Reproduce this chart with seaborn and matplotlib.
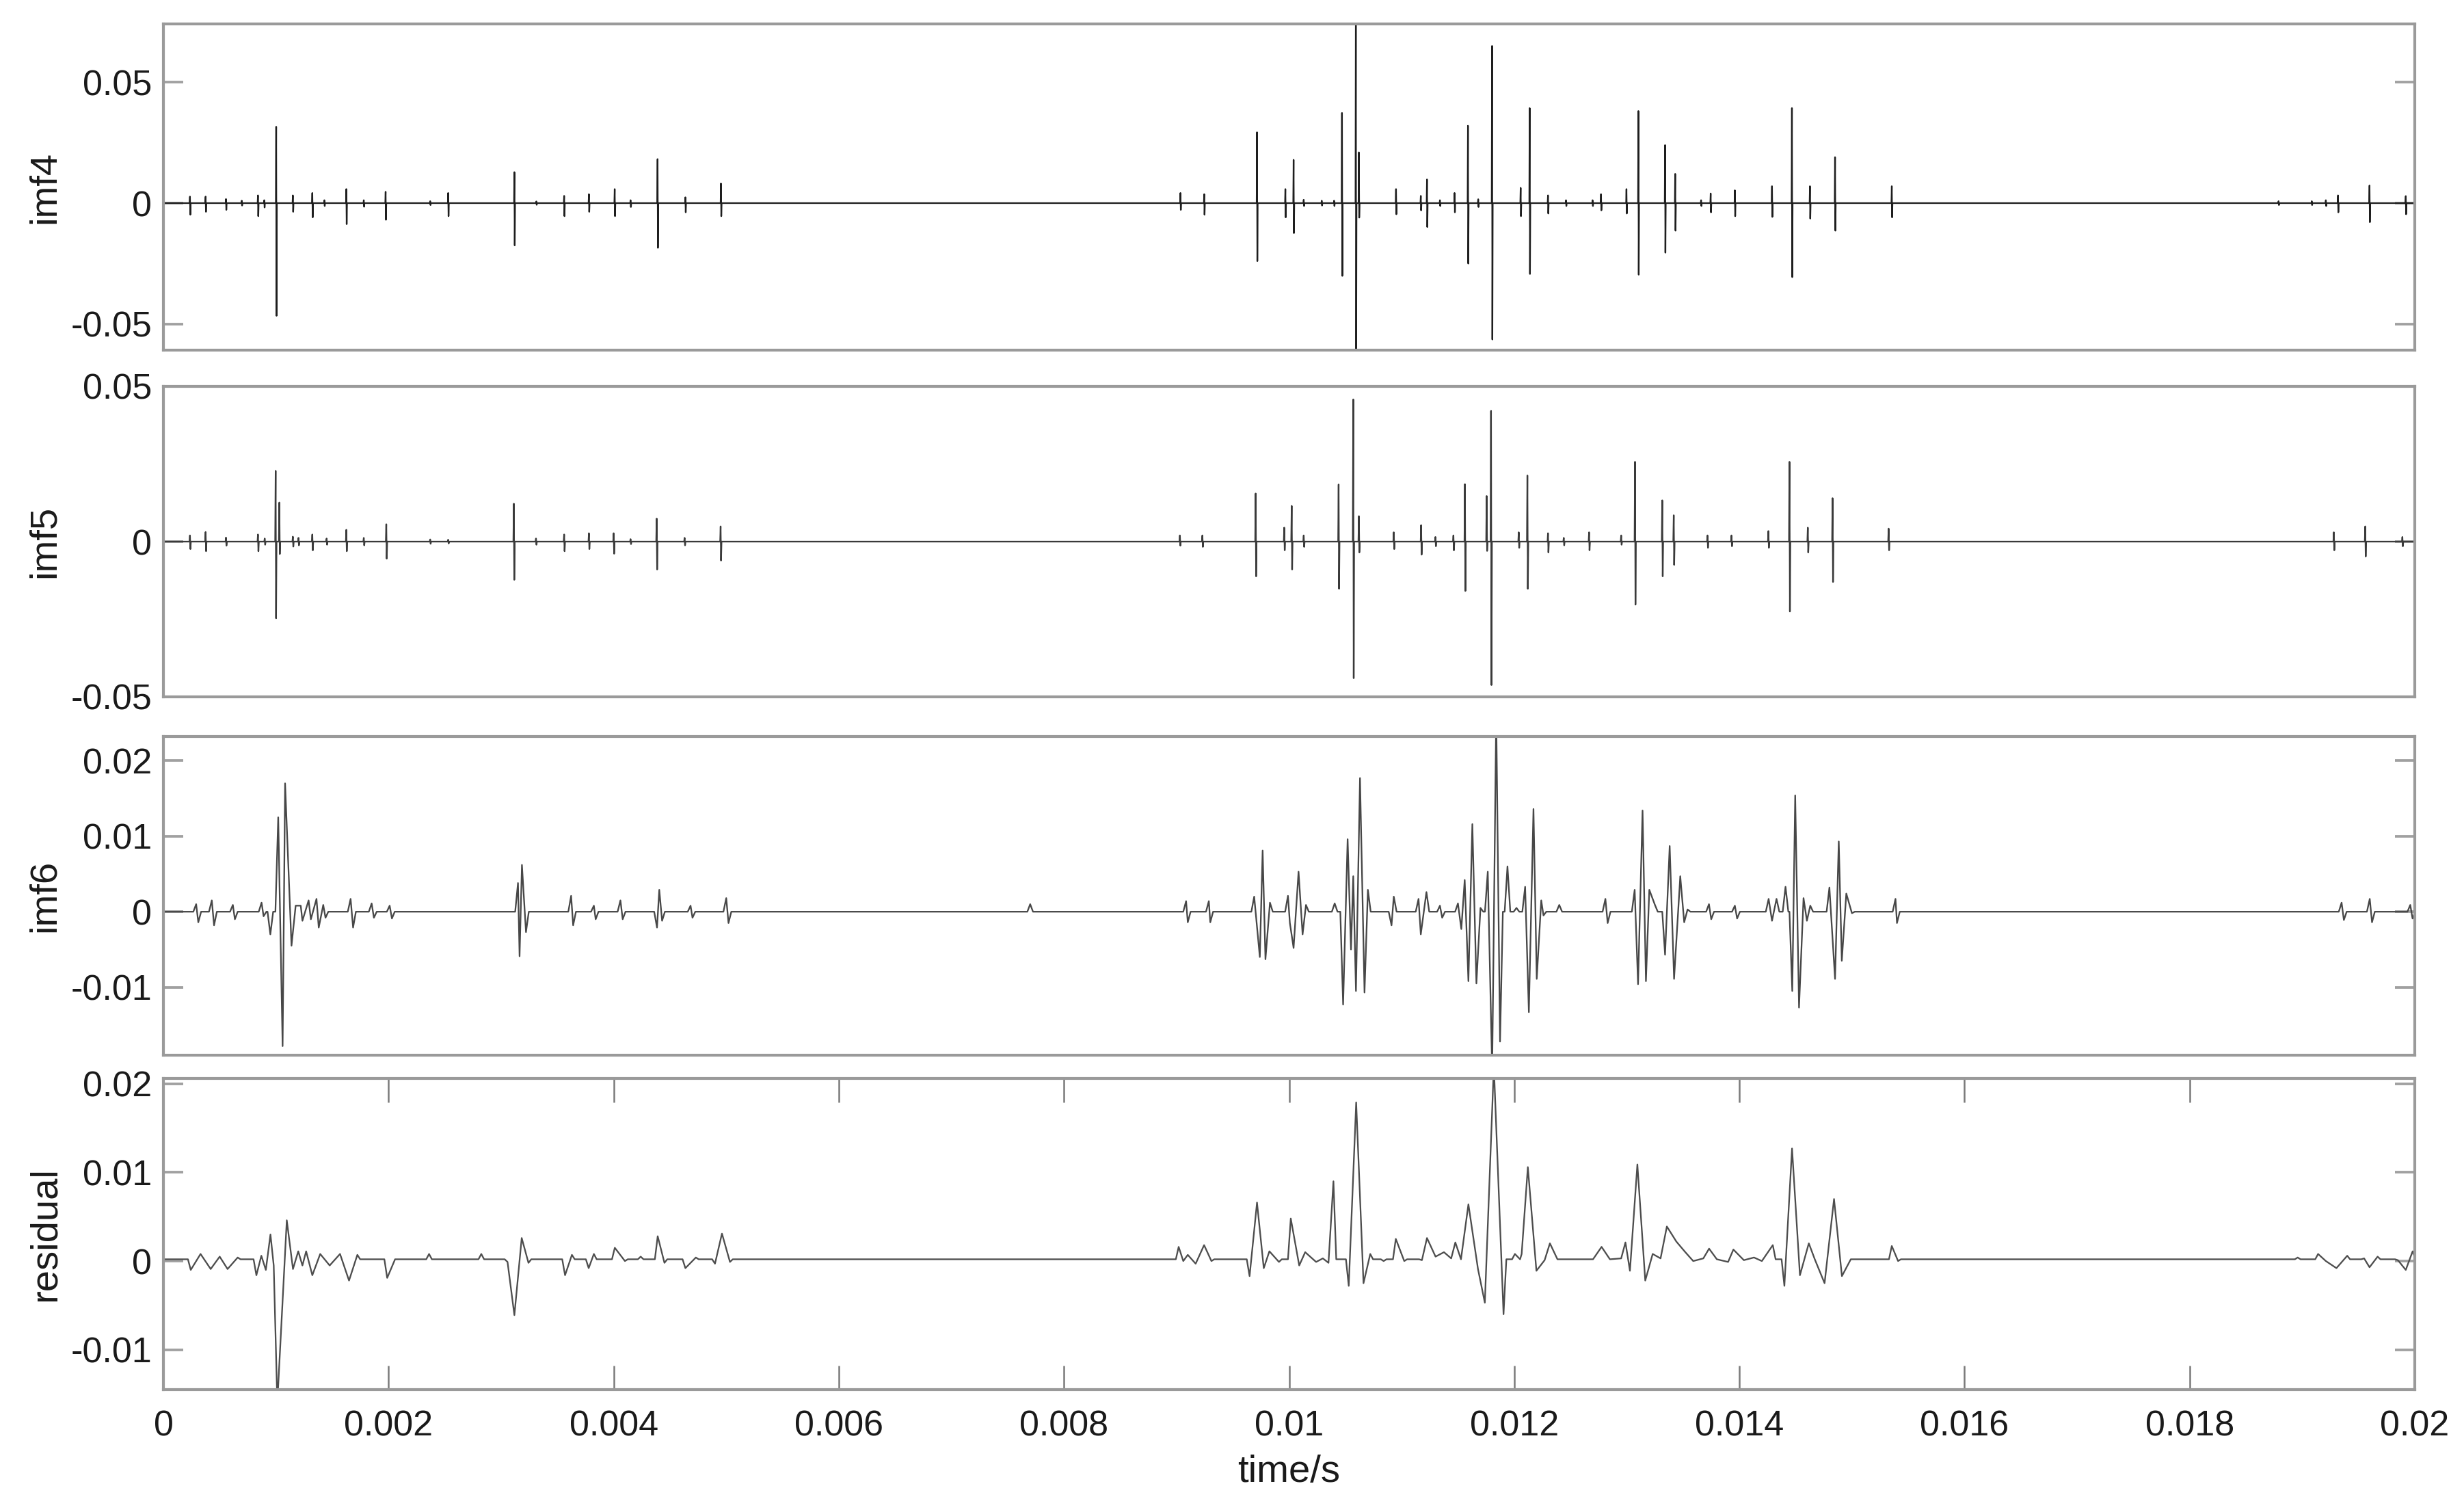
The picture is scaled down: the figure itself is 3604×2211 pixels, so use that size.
import matplotlib
matplotlib.use("Agg")
import matplotlib.pyplot as plt
import seaborn as sns
import pandas as pd

# ---- data (time in s) ----
# imf4 / imf5: isolated spikes -> time, positive peak, negative peak
imf4_t = [0.000236, 0.000375, 0.000556, 0.000696, 0.000840, 0.000896, 0.001002, 0.001150,
          0.001323, 0.001430, 0.001625, 0.001780, 0.001974, 0.002370, 0.002530, 0.003118,
          0.003313, 0.003560, 0.003780, 0.004009, 0.004150, 0.004390, 0.004637, 0.004953,
          0.009035, 0.009246, 0.009715, 0.009967, 0.010040, 0.010130, 0.010290, 0.010400,
          0.010470, 0.010593, 0.010620, 0.010950, 0.011170, 0.011225, 0.011340, 0.011470,
          0.011589, 0.011680, 0.011803, 0.012057, 0.012137, 0.012300, 0.012460, 0.012696,
          0.012771, 0.012997, 0.013103, 0.013340, 0.013430, 0.013660, 0.013745, 0.013960,
          0.014290, 0.014467, 0.014627, 0.014850, 0.015354, 0.018790, 0.019085, 0.019210,
          0.019318, 0.019598, 0.019920]
imf4_up = [0.0027, 0.0027, 0.0017, 0.0010, 0.0032, 0.0012, 0.0316, 0.0032,
           0.0042, 0.0012, 0.0058, 0.0012, 0.0047, 0.0008, 0.0042, 0.0128,
           0.0007, 0.0030, 0.0037, 0.0058, 0.0012, 0.0182, 0.0024, 0.0081,
           0.0042, 0.0037, 0.0293, 0.0058, 0.0179, 0.0014, 0.0010, 0.0010,
           0.0373, 0.0850, 0.0210, 0.0058, 0.0030, 0.0098, 0.0012, 0.0042,
           0.0320, 0.0016, 0.0650, 0.0063, 0.0393, 0.0032, 0.0012, 0.0012,
           0.0037, 0.0058, 0.0381, 0.0240, 0.0121, 0.0012, 0.0040, 0.0053,
           0.0070, 0.0393, 0.0070, 0.0190, 0.0070, 0.0008, 0.0008, 0.0012,
           0.0032, 0.0073, 0.0029]
imf4_dn = [-0.0048, -0.0036, -0.0028, -0.0010, -0.0054, -0.0018, -0.0466, -0.0036,
           -0.0059, -0.0012, -0.0087, -0.0015, -0.0069, -0.0008, -0.0054, -0.0175,
           -0.0007, -0.0054, -0.0036, -0.0054, -0.0016, -0.0185, -0.0038, -0.0054,
           -0.0028, -0.0048, -0.0240, -0.0059, -0.0124, -0.0012, -0.0010, -0.0012,
           -0.0301, -0.0750, -0.0060, -0.0046, -0.0030, -0.0099, -0.0012, -0.0038,
           -0.0250, -0.0016, -0.0564, -0.0054, -0.0293, -0.0043, -0.0012, -0.0012,
           -0.0030, -0.0043, -0.0296, -0.0205, -0.0114, -0.0012, -0.0038, -0.0054,
           -0.0057, -0.0306, -0.0064, -0.0114, -0.0059, -0.0008, -0.0008, -0.0012,
           -0.0038, -0.0079, -0.0046]

imf5_t = [0.000236, 0.000375, 0.000556, 0.000840, 0.000900, 0.000997, 0.001030, 0.001150,
          0.001200, 0.001323, 0.001450, 0.001625, 0.001780, 0.001980, 0.002370, 0.002530,
          0.003113, 0.003310, 0.003560, 0.003780, 0.004000, 0.004150, 0.004382, 0.004630,
          0.004950, 0.009030, 0.009230, 0.009703, 0.009957, 0.010023, 0.010130, 0.010440,
          0.010570, 0.010620, 0.010930, 0.011173, 0.011300, 0.011460, 0.011562, 0.011755,
          0.011794, 0.012040, 0.012117, 0.012300, 0.012440, 0.012665, 0.012950, 0.013073,
          0.013315, 0.013417, 0.013717, 0.013930, 0.014258, 0.014445, 0.014608, 0.014828,
          0.015326, 0.019281, 0.019560, 0.019890]
imf5_up = [0.0020, 0.0031, 0.0013, 0.0023, 0.0010, 0.0228, 0.0126, 0.0016,
           0.0012, 0.0023, 0.0010, 0.0038, 0.0012, 0.0056, 0.0007, 0.0006,
           0.0122, 0.0010, 0.0023, 0.0027, 0.0027, 0.0008, 0.0074, 0.0012,
           0.0049, 0.0020, 0.0020, 0.0155, 0.0045, 0.0115, 0.0020, 0.0184,
           0.0458, 0.0082, 0.0030, 0.0053, 0.0015, 0.0020, 0.0185, 0.0147,
           0.0421, 0.0030, 0.0213, 0.0027, 0.0012, 0.0030, 0.0020, 0.0257,
           0.0133, 0.0085, 0.0020, 0.0020, 0.0034, 0.0257, 0.0045, 0.0140,
           0.0042, 0.0030, 0.0049, 0.0015]
imf5_dn = [-0.0024, -0.0031, -0.0013, -0.0031, -0.0010, -0.0247, -0.0040, -0.0016,
           -0.0012, -0.0028, -0.0010, -0.0031, -0.0012, -0.0055, -0.0007, -0.0006,
           -0.0123, -0.0010, -0.0031, -0.0024, -0.0039, -0.0008, -0.0090, -0.0012,
           -0.0061, -0.0013, -0.0017, -0.0112, -0.0028, -0.0090, -0.0017, -0.0152,
           -0.0440, -0.0035, -0.0024, -0.0042, -0.0015, -0.0028, -0.0159, -0.0030,
           -0.0462, -0.0020, -0.0152, -0.0035, -0.0012, -0.0028, -0.0010, -0.0203,
           -0.0112, -0.0075, -0.0020, -0.0015, -0.0020, -0.0225, -0.0035, -0.0130,
           -0.0028, -0.0028, -0.0048, -0.0015]

# imf6 / residual: successive extrema (time, value)
imf6_t = [0.000291, 0.000310, 0.000430, 0.000450, 0.000617, 0.000635, 0.000872, 0.000890,
          0.000950, 0.001020, 0.001059, 0.001081, 0.001138, 0.001175,
          0.001220, 0.001235, 0.001290, 0.001310, 0.001360, 0.001380, 0.001420, 0.001440,
          0.001663, 0.001685, 0.001850, 0.001870, 0.002010, 0.002030,
          0.003150, 0.003164, 0.003185, 0.003221,
          0.003622, 0.003640, 0.003824, 0.003840, 0.004060, 0.004080,
          0.004385, 0.004405, 0.004430, 0.004683, 0.004700, 0.005000, 0.005020, 0.007700,
          0.009085, 0.009100, 0.009287, 0.009300,
          0.009690, 0.009740, 0.009765, 0.009790, 0.009830,
          0.009990, 0.010007, 0.010040, 0.010084, 0.010120, 0.010150,
          0.010405, 0.010480, 0.010520, 0.010550, 0.010570, 0.010594, 0.010630, 0.010670, 0.010700,
          0.010910, 0.010930, 0.011150, 0.011170, 0.011220, 0.011340, 0.011360,
          0.011500, 0.011530, 0.011560, 0.011593, 0.011628, 0.011664, 0.011700, 0.011765,
          0.011804, 0.011840, 0.011874, 0.011940, 0.012020, 0.012097, 0.012130, 0.012171,
          0.012200, 0.012240, 0.012260, 0.012400,
          0.012810, 0.012830,
          0.013070, 0.013100, 0.013140, 0.013170, 0.013200, 0.013250, 0.013340, 0.013381,
          0.013420, 0.013475, 0.013510, 0.013540,
          0.013730, 0.013750, 0.013960, 0.013980,
          0.014260, 0.014290, 0.014330, 0.014410, 0.014470, 0.014496, 0.014530, 0.014570,
          0.014600, 0.014630, 0.014800, 0.014850, 0.014883, 0.014910, 0.014950, 0.015000,
          0.015387, 0.015400, 0.019350, 0.019370, 0.019600, 0.019620, 0.019960, 0.019980]
imf6_v = [0.0010, -0.0014, 0.0015, -0.0018, 0.0009, -0.0010, 0.0012, -0.0006,
          -0.0030, 0.0125, -0.0178, 0.0170, -0.0045, 0.0008,
          0.0008, -0.0012, 0.0015, -0.0010, 0.0017, -0.0021, 0.0009, -0.0008,
          0.0017, -0.0021, 0.0011, -0.0008, 0.0008, -0.0009,
          0.0038, -0.0059, 0.0062, -0.0027,
          0.0021, -0.0018, 0.0008, -0.0010, 0.0015, -0.0010,
          -0.0021, 0.0029, -0.0012, 0.0008, -0.0008, 0.0018, -0.0015, 0.0010,
          0.0014, -0.0014, 0.0014, -0.0014,
          0.0020, -0.0060, 0.0081, -0.0063, 0.0012,
          0.0021, -0.0015, -0.0048, 0.0053, -0.0030, 0.0009,
          0.0011, -0.0123, 0.0096, -0.0050, 0.0047, -0.0105, 0.0177, -0.0107, 0.0029,
          -0.0018, 0.0020, 0.0017, -0.0030, 0.0026, 0.0008, -0.0008,
          0.0011, -0.0023, 0.0042, -0.0092, 0.0116, -0.0095, 0.0005, 0.0053,
          -0.0210, 0.0260, -0.0172, 0.0060, 0.0005, 0.0033, -0.0133, 0.0136,
          -0.0089, 0.0015, -0.0005, 0.0009,
          0.0017, -0.0015,
          0.0029, -0.0096, 0.0134, -0.0092, 0.0029, 0.0009, -0.0057, 0.0087,
          -0.0089, 0.0047, -0.0014, 0.0003,
          0.0010, -0.0010, 0.0008, -0.0009,
          0.0017, -0.0012, 0.0017, 0.0033, -0.0105, 0.0154, -0.0127, 0.0018,
          -0.0012, 0.0008, 0.0032, -0.0089, 0.0093, -0.0065, 0.0024, -0.0002,
          0.0017, -0.0015, 0.0012, -0.0011, 0.0017, -0.0014, 0.0009, -0.0009]

res_t = [0.000243, 0.000330, 0.000420, 0.000500, 0.000570, 0.000660,
         0.000826, 0.000870, 0.000910, 0.000951, 0.000980, 0.001012, 0.001096,
         0.001151, 0.001198, 0.001235, 0.001268, 0.001323, 0.001393, 0.001477, 0.001569,
         0.001649, 0.001723, 0.001988, 0.002058, 0.002360, 0.002824, 0.003057,
         0.003118, 0.003183, 0.003243, 0.003568, 0.003629, 0.003778, 0.003824,
         0.004010, 0.004100, 0.004240, 0.004391, 0.004451, 0.004637, 0.004730,
         0.004900, 0.004962, 0.005033,
         0.009019, 0.009060, 0.009100, 0.009170, 0.009245, 0.009310,
         0.009649, 0.009715, 0.009775, 0.009825, 0.009910, 0.010015, 0.010090, 0.010143,
         0.010240, 0.010300, 0.010350, 0.010394, 0.010530, 0.010596, 0.010661, 0.010721,
         0.010840, 0.010948, 0.011023, 0.011180, 0.011225, 0.011301, 0.011376, 0.011440,
         0.011477, 0.011527, 0.011593, 0.011678, 0.011739, 0.011819, 0.011905, 0.012006,
         0.012052, 0.012066, 0.012121, 0.012197, 0.012270, 0.012317, 0.012384,
         0.012700, 0.012776, 0.012850, 0.012950, 0.012988, 0.013028, 0.013094, 0.013164,
         0.013230, 0.013300, 0.013356, 0.013440, 0.013520, 0.013590, 0.013680, 0.013731,
         0.013800, 0.013900, 0.013947, 0.014040, 0.014130, 0.014200, 0.014297, 0.014400,
         0.014468, 0.014538, 0.014617, 0.014670, 0.014757, 0.014841, 0.014911, 0.014990,
         0.015354, 0.015410, 0.018960, 0.019141, 0.019210, 0.019304, 0.019400, 0.019550,
         0.019598, 0.019670, 0.019850, 0.019920, 0.019981]
res_v = [-0.0010, 0.0008, -0.0009, 0.0005, -0.0009, 0.0004,
         -0.0016, 0.0006, -0.0010, 0.0030, -0.0005, -0.0160, 0.0046,
         -0.0009, 0.0011, -0.0005, 0.0011, -0.0016, 0.0008, -0.0005, 0.0008,
         -0.0022, 0.0007, -0.0019, 0.0002, 0.0008, 0.0008, -0.0001,
         -0.0061, 0.0026, -0.0002, -0.0016, 0.0007, -0.0008, 0.0008,
         0.0015, 0.0000, 0.0005, 0.0028, -0.0002, -0.0008, 0.0004,
         -0.0003, 0.0031, -0.0001,
         0.0016, 0.0000, 0.0007, -0.0003, 0.0018, 0.0000,
         -0.0017, 0.0066, -0.0008, 0.0011, -0.0001, 0.0048, -0.0005, 0.0010,
         -0.0001, 0.0003, -0.0002, 0.0090, -0.0028, 0.0179, -0.0025, 0.0008,
         0.0000, 0.0025, 0.0000, 0.0001, 0.0026, 0.0005, 0.0010, 0.0003,
         0.0021, 0.0002, 0.0064, -0.0009, -0.0047, 0.0220, -0.0060, 0.0008,
         0.0002, 0.0008, 0.0106, -0.0011, 0.0001, 0.0020, 0.0002,
         0.0002, 0.0016, 0.0002, 0.0003, 0.0021, -0.0011, 0.0109, -0.0022,
         0.0008, 0.0003, 0.0039, 0.0022, 0.0010, 0.0000, 0.0003, 0.0014,
         0.0002, -0.0001, 0.0013, 0.0001, 0.0004, 0.0000, 0.0018, -0.0028,
         0.0127, -0.0016, 0.0020, 0.0002, -0.0025, 0.0070, -0.0017, 0.0002,
         0.0017, 0.0000, 0.0004, 0.0008, 0.0000, -0.0008, 0.0006, 0.0003,
         -0.0007, 0.0005, 0.0001, -0.0010, 0.0011]
res_base = 0.0002

x_ticks = [0, 0.002, 0.004, 0.006, 0.008, 0.01, 0.012, 0.014, 0.016, 0.018, 0.02]
panel_labels = ["imf4", "imf5", "imf6", "residual"]
panel_ylims = [(-0.0608, 0.0741), (-0.05, 0.05), (-0.019, 0.0232), (-0.0145, 0.0206)]
panel_yticks = [[-0.05, 0, 0.05], [-0.05, 0, 0.05], [-0.01, 0, 0.01, 0.02], [-0.01, 0, 0.01, 0.02]]


def spikes_to_frame(ts, ups, dns, hw=3e-6):
    t, v = [0.0], [0.0]
    for ti, u, d in zip(ts, ups, dns):
        t += [ti - hw, ti, ti + hw, ti + 2 * hw]
        v += [0.0, u, d, 0.0]
    t.append(0.02)
    v.append(0.0)
    return pd.DataFrame({"time": t, "value": v})


def extrema_to_frame(ts, vs, base=0.0, step=2.5e-5, gap=6e-5):
    t, v = [0.0], [base]
    for ti, vi in zip(ts, vs):
        if ti - t[-1] > gap:
            t += [t[-1] + step, ti - step]
            v += [base, base]
        t.append(ti)
        v.append(vi)
    t += [t[-1] + step, 0.02]
    v += [base, base]
    return pd.DataFrame({"time": t, "value": v})


frames = [
    spikes_to_frame(imf4_t, imf4_up, imf4_dn),
    spikes_to_frame(imf5_t, imf5_up, imf5_dn, hw=4e-6),
    extrema_to_frame(imf6_t, imf6_v),
    extrema_to_frame(res_t, res_v, base=res_base, gap=1e-4),
]
line_colors = ["#1e1e1e", "#3a3a3a", "#474747", "#4d4d4d"]

sns.set_theme(style="white")
plt.rcParams["font.family"] = ["Liberation Sans", "DejaVu Sans"]

W, H = 3604, 2211
fig = plt.figure(figsize=(W / 300, H / 300), dpi=300)

# axes boxes in pixels: (left, top, right, bottom)
boxes = [(239, 35, 3532, 512), (239, 565, 3532, 1019), (239, 1077, 3532, 1543), (239, 1577, 3532, 2032)]

axes = []
for i, (l, t, r, b) in enumerate(boxes):
    ax = fig.add_axes([l / W, 1 - b / H, (r - l) / W, (b - t) / H])
    sns.lineplot(data=frames[i], x="time", y="value", ax=ax, estimator=None, sort=False,
                 color=line_colors[i], linewidth=0.55)
    ax.set_xlim(0, 0.02)
    ax.set_ylim(*panel_ylims[i])
    ax.set_yticks(panel_yticks[i])
    ax.set_yticklabels([f"{v:g}" for v in panel_yticks[i]])
    ax.set_ylabel(panel_labels[i], fontsize=13.5, color="#1a1a1a")
    ax.yaxis.set_label_coords(-0.0446, 0.5)
    ax.tick_params(axis="y", direction="in", length=7, width=0.9, color="#a0a0a0",
                   left=True, right=True, labelsize=12.5, pad=4, labelcolor="#1a1a1a")
    for sp in ax.spines.values():
        sp.set_color("#9a9a9a")
        sp.set_linewidth(1.0)
    if i < 3:
        ax.tick_params(axis="x", bottom=False, top=False, labelbottom=False)
        ax.set_xlabel("")
    else:
        ax.set_xticks(x_ticks)
        ax.set_xticklabels([f"{v:g}" for v in x_ticks])
        ax.tick_params(axis="x", direction="in", length=8.5, width=0.6, color="#7a7a7a",
                       bottom=True, top=True, labelsize=12.5, pad=7, labelcolor="#1a1a1a")
        ax.set_xlabel("time/s", fontsize=13.5, color="#1a1a1a", labelpad=4)
    axes.append(ax)

fig.savefig("out.png", dpi=300)
